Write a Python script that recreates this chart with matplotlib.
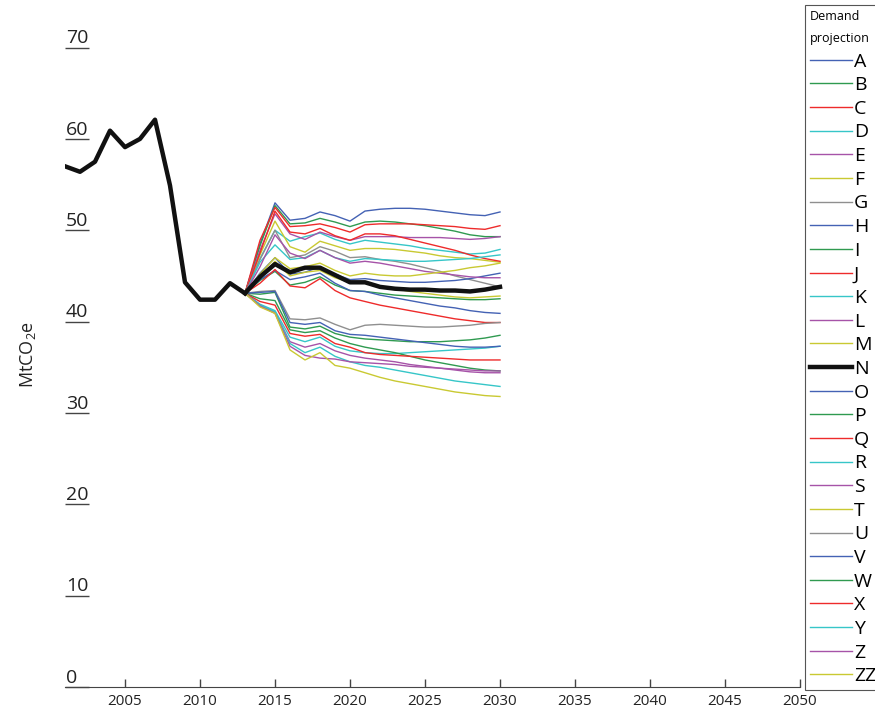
import matplotlib
matplotlib.use("Agg")
import matplotlib.pyplot as plt

plt.rcParams['font.family'] = ['Open Sans', 'DejaVu Sans']
plt.rcParams['mathtext.fontset'] = 'custom'
plt.rcParams['mathtext.rm'] = 'Open Sans'

# historical emissions, MtCO2e
hist_years = [2001, 2002, 2003, 2004, 2005, 2006, 2007, 2008, 2009, 2010, 2011, 2012, 2013]
hist_values = [57.0, 56.4, 57.5, 60.9, 59.1, 60.0, 62.1, 54.9, 44.3, 42.4, 42.4, 44.2, 43.1]

# projections 2013-2030, one list per demand projection
proj_years = list(range(2013, 2031))
labels = ['A', 'B', 'C', 'D', 'E', 'F', 'G', 'H', 'I', 'J', 'K', 'L', 'M', 'N',
          'O', 'P', 'Q', 'R', 'S', 'T', 'U', 'V', 'W', 'X', 'Y', 'Z', 'ZZ']
proj_A = [43.1, 48.5, 53.0, 51.1, 51.3, 52.0, 51.6, 51.0, 52.1, 52.3, 52.4, 52.4, 52.3, 52.1, 51.9, 51.7, 51.6, 52.0]
proj_B = [43.1, 48.3, 52.7, 50.7, 50.8, 51.3, 50.9, 50.4, 50.9, 51.0, 50.9, 50.7, 50.5, 50.2, 49.9, 49.5, 49.3, 49.3]
proj_C = [43.1, 48.9, 52.5, 50.4, 50.5, 50.7, 50.3, 49.8, 50.6, 50.7, 50.7, 50.7, 50.6, 50.5, 50.4, 50.2, 50.1, 50.5]
proj_D = [43.1, 46.9, 50.0, 48.8, 49.3, 49.7, 49.0, 48.5, 48.9, 48.7, 48.5, 48.3, 48.0, 47.8, 47.6, 47.4, 47.5, 47.9]
proj_E = [43.1, 47.8, 51.8, 49.6, 49.0, 49.8, 49.3, 48.9, 49.3, 49.3, 49.3, 49.2, 49.2, 49.2, 49.1, 49.0, 49.1, 49.3]
proj_F = [43.1, 47.3, 51.0, 48.2, 47.6, 48.8, 48.3, 47.8, 48.0, 48.0, 47.9, 47.7, 47.5, 47.2, 47.0, 46.9, 46.7, 46.5]
proj_G = [43.1, 46.8, 50.0, 47.0, 47.3, 48.2, 47.7, 47.0, 47.1, 46.8, 46.6, 46.3, 45.9, 45.5, 45.0, 44.6, 44.2, 43.8]
proj_H = [43.1, 45.3, 47.0, 45.2, 45.4, 46.0, 45.2, 44.6, 44.7, 44.5, 44.4, 44.3, 44.3, 44.4, 44.5, 44.7, 45.0, 45.3]
proj_I = [43.1, 44.5, 45.5, 44.0, 44.3, 44.9, 44.0, 43.4, 43.3, 43.1, 42.9, 42.8, 42.7, 42.6, 42.5, 42.4, 42.4, 42.5]
proj_J = [43.1, 47.5, 52.1, 49.8, 49.6, 50.2, 49.4, 48.9, 49.6, 49.6, 49.4, 49.0, 48.6, 48.2, 47.8, 47.3, 46.9, 46.6]
proj_K = [43.1, 46.5, 48.4, 46.8, 47.0, 47.8, 47.0, 46.6, 46.9, 46.8, 46.7, 46.6, 46.6, 46.7, 46.8, 46.9, 47.1, 47.3]
proj_L = [43.1, 46.0, 49.5, 47.5, 46.9, 47.8, 47.0, 46.4, 46.6, 46.4, 46.1, 45.8, 45.5, 45.3, 45.1, 44.9, 44.8, 44.8]
proj_M = [43.1, 45.2, 47.0, 45.8, 46.0, 46.4, 45.6, 45.0, 45.3, 45.1, 45.0, 45.0, 45.2, 45.4, 45.6, 45.9, 46.1, 46.4]
proj_N = [43.1, 44.9, 46.3, 45.4, 45.9, 45.9, 45.1, 44.3, 44.3, 43.8, 43.6, 43.5, 43.5, 43.4, 43.4, 43.3, 43.5, 43.8]
proj_O = [43.1, 44.6, 45.6, 44.6, 44.9, 45.3, 44.2, 43.4, 43.3, 42.9, 42.6, 42.3, 42.0, 41.7, 41.5, 41.2, 41.0, 40.9]
proj_P = [43.1, 43.0, 43.2, 39.4, 39.2, 39.5, 38.7, 38.3, 38.1, 38.0, 37.9, 37.8, 37.8, 37.8, 37.9, 38.0, 38.2, 38.5]
proj_Q = [43.1, 44.2, 45.7, 43.9, 43.7, 44.7, 43.4, 42.6, 42.2, 41.8, 41.5, 41.2, 40.9, 40.6, 40.3, 40.1, 39.9, 39.9]
proj_R = [43.1, 41.9, 41.2, 38.3, 37.8, 38.3, 37.3, 36.8, 36.6, 36.5, 36.5, 36.6, 36.7, 36.8, 36.9, 37.0, 37.1, 37.3]
proj_S = [43.1, 41.8, 41.0, 37.8, 37.2, 37.6, 36.8, 36.3, 36.0, 35.8, 35.6, 35.3, 35.1, 34.9, 34.7, 34.5, 34.4, 34.4]
proj_T = [43.1, 44.8, 46.6, 45.0, 45.4, 45.6, 44.8, 44.3, 44.2, 43.9, 43.6, 43.3, 43.1, 42.9, 42.7, 42.6, 42.7, 42.8]
proj_U = [43.1, 43.3, 43.4, 40.3, 40.2, 40.4, 39.7, 39.1, 39.6, 39.7, 39.6, 39.5, 39.4, 39.4, 39.5, 39.6, 39.8, 39.9]
proj_V = [43.1, 43.2, 43.3, 39.9, 39.7, 39.9, 39.0, 38.6, 38.5, 38.3, 38.1, 37.9, 37.7, 37.5, 37.3, 37.2, 37.2, 37.3]
proj_W = [43.1, 42.5, 42.3, 39.1, 38.8, 39.0, 38.2, 37.6, 37.2, 36.9, 36.6, 36.2, 35.8, 35.5, 35.2, 34.9, 34.7, 34.6]
proj_X = [43.1, 42.2, 41.8, 38.7, 38.4, 38.6, 37.6, 37.2, 36.6, 36.4, 36.3, 36.2, 36.1, 36.0, 35.9, 35.8, 35.8, 35.8]
proj_Y = [43.1, 41.8, 41.1, 37.6, 36.6, 37.2, 36.2, 35.6, 35.2, 35.0, 34.7, 34.4, 34.1, 33.8, 33.5, 33.3, 33.1, 32.9]
proj_Z = [43.1, 41.7, 40.9, 37.3, 36.3, 36.0, 35.9, 35.6, 35.5, 35.4, 35.3, 35.1, 35.0, 34.9, 34.8, 34.7, 34.6, 34.6]
proj_ZZ = [43.1, 41.6, 40.9, 36.9, 35.8, 36.6, 35.2, 34.9, 34.4, 33.9, 33.5, 33.2, 32.9, 32.6, 32.3, 32.1, 31.9, 31.8]

projections = [proj_A, proj_B, proj_C, proj_D, proj_E, proj_F, proj_G, proj_H, proj_I,
               proj_J, proj_K, proj_L, proj_M, proj_N, proj_O, proj_P, proj_Q, proj_R,
               proj_S, proj_T, proj_U, proj_V, proj_W, proj_X, proj_Y, proj_Z, proj_ZZ]

blue, green, red, cyan = '#4462b4', '#2f9a50', '#ee2b2b', '#36c6c8'
purple, yellow, gray = '#a653a8', '#c9c932', '#8f8f8f'
colors = [blue, green, red, cyan, purple, yellow, gray,
          blue, green, red, cyan, purple, yellow, '#111111',
          blue, green, red, cyan, purple, yellow, gray,
          blue, green, red, cyan, purple, yellow]

fig = plt.figure(figsize=(8.75, 7.17), dpi=100)
ax = fig.add_axes([65 / 875, 30 / 717, 735 / 875, 676 / 717])

handles = []
for lab, vals, col in zip(labels, projections, colors):
    if lab == 'N':
        h, = ax.plot(proj_years, vals, color=col, lw=3.2, zorder=5, label=lab)
    else:
        h, = ax.plot(proj_years, vals, color=col, lw=1.0, zorder=3, label=lab)
    handles.append(h)
ax.plot(hist_years, hist_values, color='#111111', lw=3.2, zorder=5)

ax.set_xlim(2001, 2050)
ax.set_ylim(0, 74)
ax.set_xticks(range(2005, 2051, 5))
yticks = [0, 10, 20, 30, 40, 50, 60, 70]
ax.set_yticks(yticks)

for s in ['left', 'top', 'right']:
    ax.spines[s].set_visible(False)
ax.spines['bottom'].set_color('#444444')
ax.tick_params(axis='x', direction='in', length=6, width=1, color='#444444',
               labelsize=11, pad=5, labelcolor='#222222')
ax.tick_params(axis='y', direction='in', length=17, width=1, color='#444444',
               labelleft=False)

# y labels sit on top of their tick marks
for v in yticks:
    ax.annotate(str(v), xy=(0, v), xycoords=('axes fraction', 'data'),
                xytext=(0.5, 3), textcoords='offset points',
                ha='left', va='baseline', fontsize=14, color='#222222')

fig.text(28 / 875, 1 - 355 / 717, 'MtCO$_2$e', rotation=90, ha='center', va='center',
         fontsize=13, color='#222222')

leg = fig.legend(handles, labels, loc='upper left',
                 bbox_to_anchor=(805 / 875, 1 - 5 / 717), bbox_transform=fig.transFigure,
                 title='Demand\nprojection', title_fontsize=9, fontsize=14,
                 frameon=True, fancybox=False, edgecolor='#555555', framealpha=1,
                 borderpad=0.25, labelspacing=0.29, handlelength=2.15,
                 handletextpad=0.12, borderaxespad=0, alignment='left')
leg.get_title().set_linespacing(1.9)
leg._legend_box.sep = 0.29 * 14 + 1.5
leg.get_frame().set_linewidth(0.8)

fig.savefig('out.png', dpi=100)
